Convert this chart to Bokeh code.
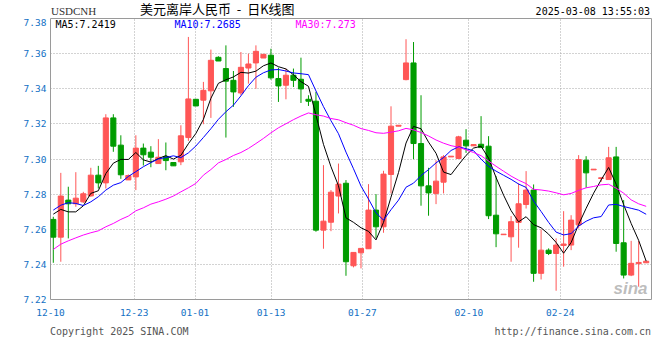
from bokeh.plotting import figure
from bokeh.models import Range1d, FixedTicker, Label, ColumnDataSource, NumeralTickFormatter, Div
from bokeh.layouts import column
from bokeh.embed import file_html
from bokeh.resources import INLINE

# ---------------- data ----------------
dates = ["12-10", "12-11", "12-12", "12-13", "12-14", "12-16", "12-17", "12-18", "12-19", "12-20",
         "12-21", "12-23", "12-24", "12-25", "12-26", "12-27", "12-28", "12-30", "12-31", "01-01",
         "01-02", "01-03", "01-04", "01-06", "01-07", "01-08", "01-09", "01-10", "01-11", "01-13",
         "01-14", "01-15", "01-16", "01-17", "01-18", "01-20", "01-21", "01-22", "01-23", "01-24",
         "01-25", "01-27", "01-28", "01-29", "01-30", "01-31", "02-01", "02-02", "02-03", "02-04",
         "02-05", "02-06", "02-07", "02-08", "02-09", "02-10", "02-11", "02-12", "02-13", "02-14",
         "02-15", "02-17", "02-18", "02-19", "02-20", "02-21", "02-22", "02-24", "02-25", "02-26",
         "02-27", "02-28", "03-01", "03-02", "03-03", "03-04", "03-05", "03-06", "03-07", "03-08"]

opens = [7.2656, 7.2555, 7.2766, 7.2745, 7.2756, 7.2790, 7.2908, 7.2864, 7.3234, 7.3079,
         7.2881, 7.2898, 7.3062, 7.3039, 7.2974, 7.3014, 7.2980, 7.2984, 7.3122, 7.3340,
         7.3335, 7.3388, 7.3579, 7.3515, 7.3448, 7.3376, 7.3518, 7.3547, 7.3575, 7.3591,
         7.3458, 7.3420, 7.3477, 7.3454, 7.3340, 7.3329, 7.2595, 7.2640, 7.2789, 7.2862,
         7.2392, 7.2466, 7.2489, 7.2709, 7.2614, 7.2912, 7.3187, 7.3452, 7.3547, 7.3088,
         7.2847, 7.2804, 7.2868, 7.3012, 7.3003, 7.3107, 7.3075, 7.3084, 7.3073, 7.2680,
         7.2569, 7.2557, 7.2639, 7.2741, 7.2823, 7.2349, 7.2481, 7.2462, 7.2508, 7.2510,
         7.2625, 7.2993, 7.2938, 7.2889, 7.2883, 7.3012, 7.2523, 7.2339, 7.2404, 7.2409]

highs = [7.2671, 7.2921, 7.2842, 7.2925, 7.2813, 7.2950, 7.2961, 7.3255, 7.3255, 7.3135,
         7.2912, 7.3135, 7.3088, 7.3073, 7.3113, 7.3094, 7.2980, 7.3192, 7.3695, 7.3340,
         7.3439, 7.3623, 7.3585, 7.3647, 7.3501, 7.3609, 7.3600, 7.3647, 7.3596, 7.3628,
         7.3520, 7.3515, 7.3515, 7.3577, 7.3363, 7.3382, 7.2965, 7.2823, 7.2974, 7.2880,
         7.2468, 7.2491, 7.2857, 7.2800, 7.2933, 7.3300, 7.3192, 7.3682, 7.3666, 7.3363,
         7.2950, 7.2993, 7.3022, 7.3016, 7.3132, 7.3170, 7.3082, 7.3244, 7.3130, 7.2902,
         7.2572, 7.2675, 7.2861, 7.2931, 7.2855, 7.2599, 7.2491, 7.2548, 7.2703, 7.2680,
         7.3022, 7.3016, 7.2942, 7.2893, 7.3069, 7.3069, 7.2766, 7.2534, 7.2534, 7.2418]

lows = [7.2409, 7.2415, 7.2548, 7.2728, 7.2750, 7.2785, 7.2832, 7.2832, 7.3041, 7.2887,
        7.2881, 7.2823, 7.2963, 7.2953, 7.2974, 7.2936, 7.2961, 7.2965, 7.3103, 7.3302,
        7.3198, 7.3234, 7.3558, 7.3122, 7.3297, 7.3363, 7.3429, 7.3400, 7.3575, 7.3452,
        7.3325, 7.3340, 7.3410, 7.3319, 7.3302, 7.2586, 7.2489, 7.2589, 7.2690, 7.2335,
        7.2383, 7.2377, 7.2489, 7.2548, 7.2580, 7.2804, 7.3187, 7.3448, 7.2999, 7.2734,
        7.2677, 7.2743, 7.2804, 7.3012, 7.3003, 7.3035, 7.3075, 7.3065, 7.2658, 7.2498,
        7.2569, 7.2415, 7.2495, 7.2718, 7.2301, 7.2314, 7.2453, 7.2250, 7.2387, 7.2481,
        7.2605, 7.2836, 7.2938, 7.2870, 7.2883, 7.2472, 7.2320, 7.2333, 7.2273, 7.2409]

closes = [7.2555, 7.2789, 7.2745, 7.2777, 7.2802, 7.2908, 7.2864, 7.3234, 7.3073, 7.2910,
          7.2906, 7.3062, 7.3024, 7.3010, 7.3010, 7.2991, 7.2961, 7.3132, 7.3342, 7.3302,
          7.3391, 7.3562, 7.3558, 7.3443, 7.3382, 7.3522, 7.3541, 7.3613, 7.3596, 7.3462,
          7.3416, 7.3477, 7.3448, 7.3399, 7.3329, 7.2595, 7.2646, 7.2811, 7.2857, 7.2415,
          7.2468, 7.2491, 7.2709, 7.2614, 7.2914, 7.3187, 7.3192, 7.3547, 7.3088, 7.2847,
          7.2807, 7.2874, 7.3012, 7.3016, 7.3126, 7.3075, 7.3082, 7.3065, 7.2677, 7.2574,
          7.2572, 7.2643, 7.2745, 7.2823, 7.2349, 7.2481, 7.2462, 7.2510, 7.2516, 7.2652,
          7.2997, 7.2921, 7.2942, 7.2893, 7.3007, 7.2519, 7.2339, 7.2406, 7.2411, 7.2418]

# moving-average values before enough visible closes exist
ma5_head = [7.2686, 7.2713, 7.2699, 7.2699]
ma10_head = [7.2709, 7.2737, 7.2751, 7.2747, 7.2735, 7.2756, 7.2785, 7.2823, 7.2851]
ma30_head = [7.2485, 7.2515, 7.2534, 7.2551, 7.2567, 7.2580, 7.2591, 7.2614, 7.2633, 7.2656,
             7.2675, 7.2705, 7.2722, 7.2743, 7.2756, 7.2771, 7.2789, 7.2813, 7.2836, 7.2861,
             7.2908, 7.2940, 7.2978, 7.2997, 7.3020, 7.3037, 7.3060, 7.3088, 7.3117]

tick_dates = ["12-10", "12-23", "01-01", "01-13", "01-27", "02-10", "02-24"]
y_ticks = [7.22, 7.24, 7.26, 7.28, 7.30, 7.32, 7.34, 7.36, 7.38]

symbol = "USDCNH"
chart_title = "美元离岸人民币  -  日K线图"
timestamp = "2025-03-08 13:55:03"
copyright_text = "Copyright 2025 SINA.COM"
site_url = "http://finance.sina.com.cn"

# ---------------- derived ----------------
n = len(dates)
xs = list(range(n))


def moving_average(head, period):
    out = list(head)
    for i in range(len(head), n):
        out.append(sum(closes[i - period + 1:i + 1]) / period)
    return out


ma5 = moving_average(ma5_head, 5)
ma10 = moving_average(ma10_head, 10)
ma30 = moving_average(ma30_head, 30)

UP = "#ff5656"
DOWN = "#009c00"
colors = [UP if c >= o else DOWN for o, c in zip(opens, closes)]

src = ColumnDataSource(dict(x=xs, o=opens, h=highs, l=lows, c=closes,
                            top=[max(o, c) for o, c in zip(opens, closes)],
                            bot=[min(o, c) for o, c in zip(opens, closes)],
                            color=colors, ma5=ma5, ma10=ma10, ma30=ma30))

x_lo, x_hi = -0.373, 79.71
W = 658

p = figure(width=W, height=303, x_range=Range1d(x_lo, x_hi), y_range=Range1d(7.22, 7.38),
           output_backend="svg", toolbar_location=None,
           min_border_left=50, min_border_right=7, min_border_top=0, min_border_bottom=22)
p.title.visible = False
p.background_fill_color = "white"
p.border_fill_color = "white"
p.outline_line_color = "#9a9a9a"
p.outline_line_width = 1

# x ticks: spread evenly over the frame by date index
step = (x_hi - x_lo) / (n - 1)
xt = [round(x_lo + dates.index(d) * step, 6) for d in tick_dates]
p.xaxis.ticker = FixedTicker(ticks=xt)
p.xaxis.major_label_overrides = {t: d for t, d in zip(xt, tick_dates)}
p.yaxis.ticker = FixedTicker(ticks=y_ticks)
p.yaxis.formatter = NumeralTickFormatter(format="0.00")

AX_BLUE = "#1270c4"
for ax in (p.xaxis, p.yaxis):
    ax.axis_line_color = None
    ax.major_tick_line_color = None
    ax.minor_tick_line_color = None
    ax.major_tick_out = 0
    ax.major_tick_in = 0
    ax.minor_tick_out = 0
    ax.minor_tick_in = 0
    ax.major_label_text_color = AX_BLUE
    ax.major_label_text_font = "DejaVu Sans Mono"
    ax.major_label_text_font_size = "9.5px"
p.yaxis.major_label_standoff = 4
p.xaxis.major_label_standoff = 9

for g in (p.xgrid, p.ygrid):
    g.grid_line_color = "#a6a6a6"
    g.grid_line_dash = "1 2"
    g.grid_line_width = 1
p.ygrid.ticker = FixedTicker(ticks=y_ticks)
p.xgrid.ticker = FixedTicker(ticks=xt)

# candles
p.segment(x0="x", y0="h", x1="x", y1="l", color="color", line_width=1, source=src)
p.vbar(x="x", width=0.68, top="top", bottom="bot", fill_color="color", line_color="color",
       line_width=1, source=src)

# moving averages
p.line(x="x", y="ma5", color="black", line_width=1, source=src)
p.line(x="x", y="ma10", color="#0000ff", line_width=1, source=src)
p.line(x="x", y="ma30", color="#ff00ff", line_width=1, source=src)


def fmt(v):
    return f"{v:.4f}".rstrip("0")


FH = 281  # frame height in px (for placing screen-unit labels inside the frame)
MONO = "DejaVu Sans Mono"
labels = [
    Label(x=5, y=FH - 6, x_units="screen", y_units="screen", text="MA5:" + fmt(ma5[-1]),
          text_font=MONO, text_font_size="10px", text_color="#000000", text_baseline="middle"),
    Label(x=124, y=FH - 6, x_units="screen", y_units="screen", text="MA10:" + fmt(ma10[-1]),
          text_font=MONO, text_font_size="10px", text_color="#0000ff", text_baseline="middle"),
    Label(x=245, y=FH - 6, x_units="screen", y_units="screen", text="MA30:" + fmt(ma30[-1]),
          text_font=MONO, text_font_size="10px", text_color="#ff00ff", text_baseline="middle"),
    Label(x=597, y=2, x_units="screen", y_units="screen", text="sina",
          text_font="Liberation Sans", text_font_size="17px", text_font_style="bold italic",
          text_color="#a0a0a0", text_alpha=0.7, text_align="right", text_baseline="bottom"),
]
for lb in labels:
    p.add_layout(lb)

span = "position:absolute;white-space:pre;"
header_html = (
    f'<div style="position:relative;width:{W}px;height:18px;overflow:hidden;">'
    f'<span style="{span}left:51px;top:5px;font-family:\'Liberation Serif\';font-size:11px;'
    f'line-height:12px;color:#333333;">{symbol}</span>'
    f'<span style="{span}left:140px;top:1px;font-family:\'Noto Sans CJK SC\';font-size:13px;'
    f'line-height:16px;color:#000000;">{chart_title}</span>'
    f'<span style="{span}right:8px;top:6px;font-family:\'DejaVu Sans Mono\';font-size:10px;'
    f'line-height:12px;color:#000000;">{timestamp}</span>'
    f'</div>'
)
footer_html = (
    f'<div style="position:relative;width:{W}px;height:30px;overflow:hidden;">'
    f'<span style="{span}left:50px;top:5px;font-family:\'DejaVu Sans Mono\';font-size:10px;'
    f'line-height:12px;color:#555555;">{copyright_text}</span>'
    f'<span style="{span}right:7px;top:5px;font-family:\'DejaVu Sans Mono\';font-size:10px;'
    f'line-height:12px;color:#555555;">{site_url}</span>'
    f'</div>'
)
header = Div(text=header_html, width=W, height=18, margin=(0, 0, 0, 0))
footer = Div(text=footer_html, width=W, height=30, margin=(0, 0, 0, 0))

layout = column(header, p, footer, spacing=0)

open("out.html", "w").write(file_html(layout, INLINE))
